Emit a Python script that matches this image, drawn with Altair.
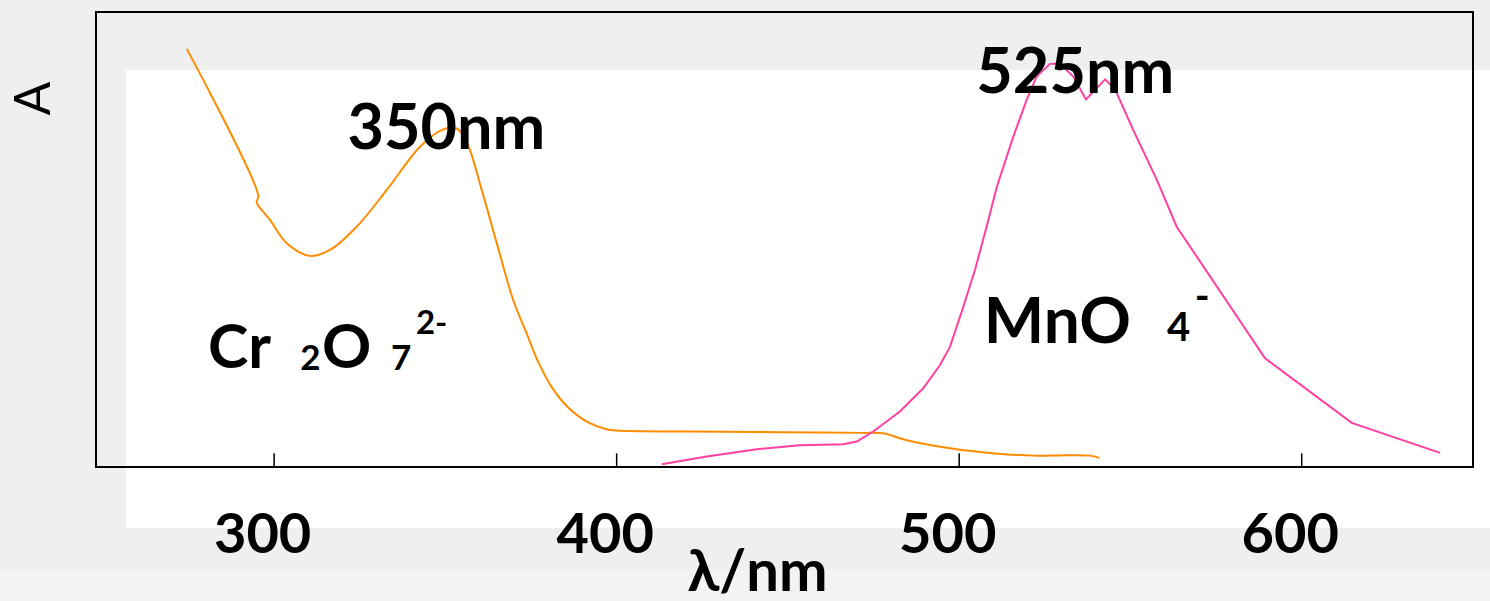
import altair as alt
import pandas as pd

# ---- data ----
cr_nm = [274.5, 295.4, 294.9, 298.8, 303.7, 310.5, 316.3, 324.1, 332.9, 342.6,
         349.4, 353.3, 356.2, 360.6, 365.0, 369.8, 373.7, 377.1, 381.0, 385.4,
         390.8, 397.1, 400.0, 421.4, 440.0, 460.0, 472.0, 477.8, 484.7, 499.3,
         509.0, 521.6, 531.4, 538.2, 540.9]
cr_A = [0.919, 0.596, 0.582, 0.543, 0.492, 0.464, 0.477, 0.528, 0.609, 0.704,
        0.742, 0.744, 0.715, 0.609, 0.492, 0.367, 0.294, 0.231, 0.176, 0.134,
        0.102, 0.083, 0.080, 0.078, 0.077, 0.076, 0.075, 0.074, 0.059, 0.039,
        0.031, 0.025, 0.026, 0.025, 0.020]

mn_nm = [413.2, 426.3, 440.9, 453.5, 466.2, 470.1, 474.9, 482.7, 489.5, 494.4,
         497.3, 501.2, 504.6, 508.0, 511.0, 515.8, 519.7, 522.6, 526.5, 529.4,
         533.3, 537.0, 542.6, 545.5, 550.8, 557.7, 563.5, 589.3, 614.6, 640.4]
mn_A = [0.006, 0.023, 0.039, 0.048, 0.050, 0.056, 0.078, 0.122, 0.173, 0.224,
        0.264, 0.352, 0.433, 0.528, 0.616, 0.726, 0.807, 0.858, 0.886, 0.887,
        0.858, 0.808, 0.852, 0.830, 0.741, 0.631, 0.528, 0.239, 0.097, 0.031]

series_names = ["Cr2O7", "MnO4"]
series_colors = ["#FF8C00", "#FF40A0"]

tick_values = [300, 400, 500, 600]

# annotation pieces: text, nm (left edge), A (baseline), font size
ann_text = ["350nm", "525nm", "Cr", "2", "O", "7", "2-", "MnO", "4", "-"]
ann_nm = [321.4, 505.0, 280.7, 307.6, 314.0, 334.1, 341.4, 507.2, 560.7, 568.8]
ann_A = [0.699, 0.822, 0.218, 0.213, 0.218, 0.213, 0.292, 0.273, 0.277, 0.345]
ann_size = [63, 63, 61, 35, 61, 35, 33, 64, 40, 40]

# ---- build tables ----
cr_df = pd.DataFrame({"series": series_names[0], "nm": cr_nm, "A": cr_A,
                      "i": list(range(len(cr_nm)))})
mn_df = pd.DataFrame({"series": series_names[1], "nm": mn_nm, "A": mn_A,
                      "i": list(range(len(mn_nm)))})
ticks_df = pd.DataFrame({"nm": tick_values, "A0": [0.0] * 4, "A1": [0.03] * 4})
ann_df = pd.DataFrame({"t": ann_text, "nm": ann_nm, "A": ann_A, "s": ann_size})

W, H = 1377, 455
FONT = "Lato"

xscale = alt.Scale(domain=[248, 650], nice=False, zero=False)
yscale = alt.Scale(domain=[0, 1], nice=False, zero=False)
cscale = alt.Scale(domain=series_names, range=series_colors)

x_axis = alt.Axis(
    values=tick_values, ticks=False, domain=False, grid=False,
    labelFont=FONT, labelFontSize=56, labelFontWeight="bold", labelColor="black",
    labelPadding=41, labelOffset=-12, labelBaseline="top", labelFlush=False,
    title="λ/nm", titleFont=FONT, titleFontSize=58, titleFontWeight="bold",
    titleColor="black", titleX=661, titleY=123, titleBaseline="alphabetic",
    titleAlign="center", zindex=1,
)
y_axis = alt.Axis(
    labels=False, ticks=False, domain=False, grid=False,
    title="A", titleFont=FONT, titleFontSize=50, titleFontWeight="normal",
    titleColor="black", titleAngle=270, titleX=-62, titleY=86,
    titleAlign="center", titleBaseline="middle", zindex=1,
)

one = alt.Chart(cr_df).transform_filter("datum.i == 0")

bottom_band = one.mark_rect(color="#f3f3f3").encode(
    x=alt.value(-96), x2=alt.value(1394), y=alt.value(558), y2=alt.value(600)
)
white_bg = one.mark_rect(color="white").encode(
    x=alt.value(30), x2=alt.value(1394), y=alt.value(58), y2=alt.value(516)
)

cr_line = alt.Chart(cr_df).mark_line(strokeWidth=2, interpolate="catmull-rom").encode(
    x=alt.X("nm:Q", scale=xscale, axis=x_axis),
    y=alt.Y("A:Q", scale=yscale, axis=y_axis),
    color=alt.Color("series:N", scale=cscale, legend=None),
    order="i:Q",
)
mn_line = alt.Chart(mn_df).mark_line(strokeWidth=2).encode(
    x=alt.X("nm:Q", scale=xscale),
    y=alt.Y("A:Q", scale=yscale),
    color=alt.Color("series:N", scale=cscale, legend=None),
    order="i:Q",
)

ticks = alt.Chart(ticks_df).mark_rule(color="black", strokeWidth=1.5).encode(
    x=alt.X("nm:Q", scale=xscale),
    y=alt.Y("A0:Q", scale=yscale),
    y2="A1:Q",
)

labels = alt.Chart(ann_df).mark_text(
    font=FONT, fontWeight="bold", align="left", baseline="alphabetic", color="black"
).encode(
    x=alt.X("nm:Q", scale=xscale),
    y=alt.Y("A:Q", scale=yscale),
    text="t:N",
    size=alt.Size("s:Q", scale=None),
)

frame = one.mark_rect(fill="transparent", stroke="black", strokeWidth=2).encode(
    x=alt.value(0), x2=alt.value(W), y=alt.value(0), y2=alt.value(H)
)

chart = alt.layer(bottom_band, white_bg, cr_line, mn_line, ticks, labels, frame).properties(
    width=W, height=H,
    autosize=alt.AutoSizeParams(type="none"),
    padding={"left": 96, "top": 12, "right": 17, "bottom": 134},
    background="#efefef",
).configure_view(strokeWidth=0)

chart.save("out.html", embed_options={"renderer": "svg", "actions": False})
